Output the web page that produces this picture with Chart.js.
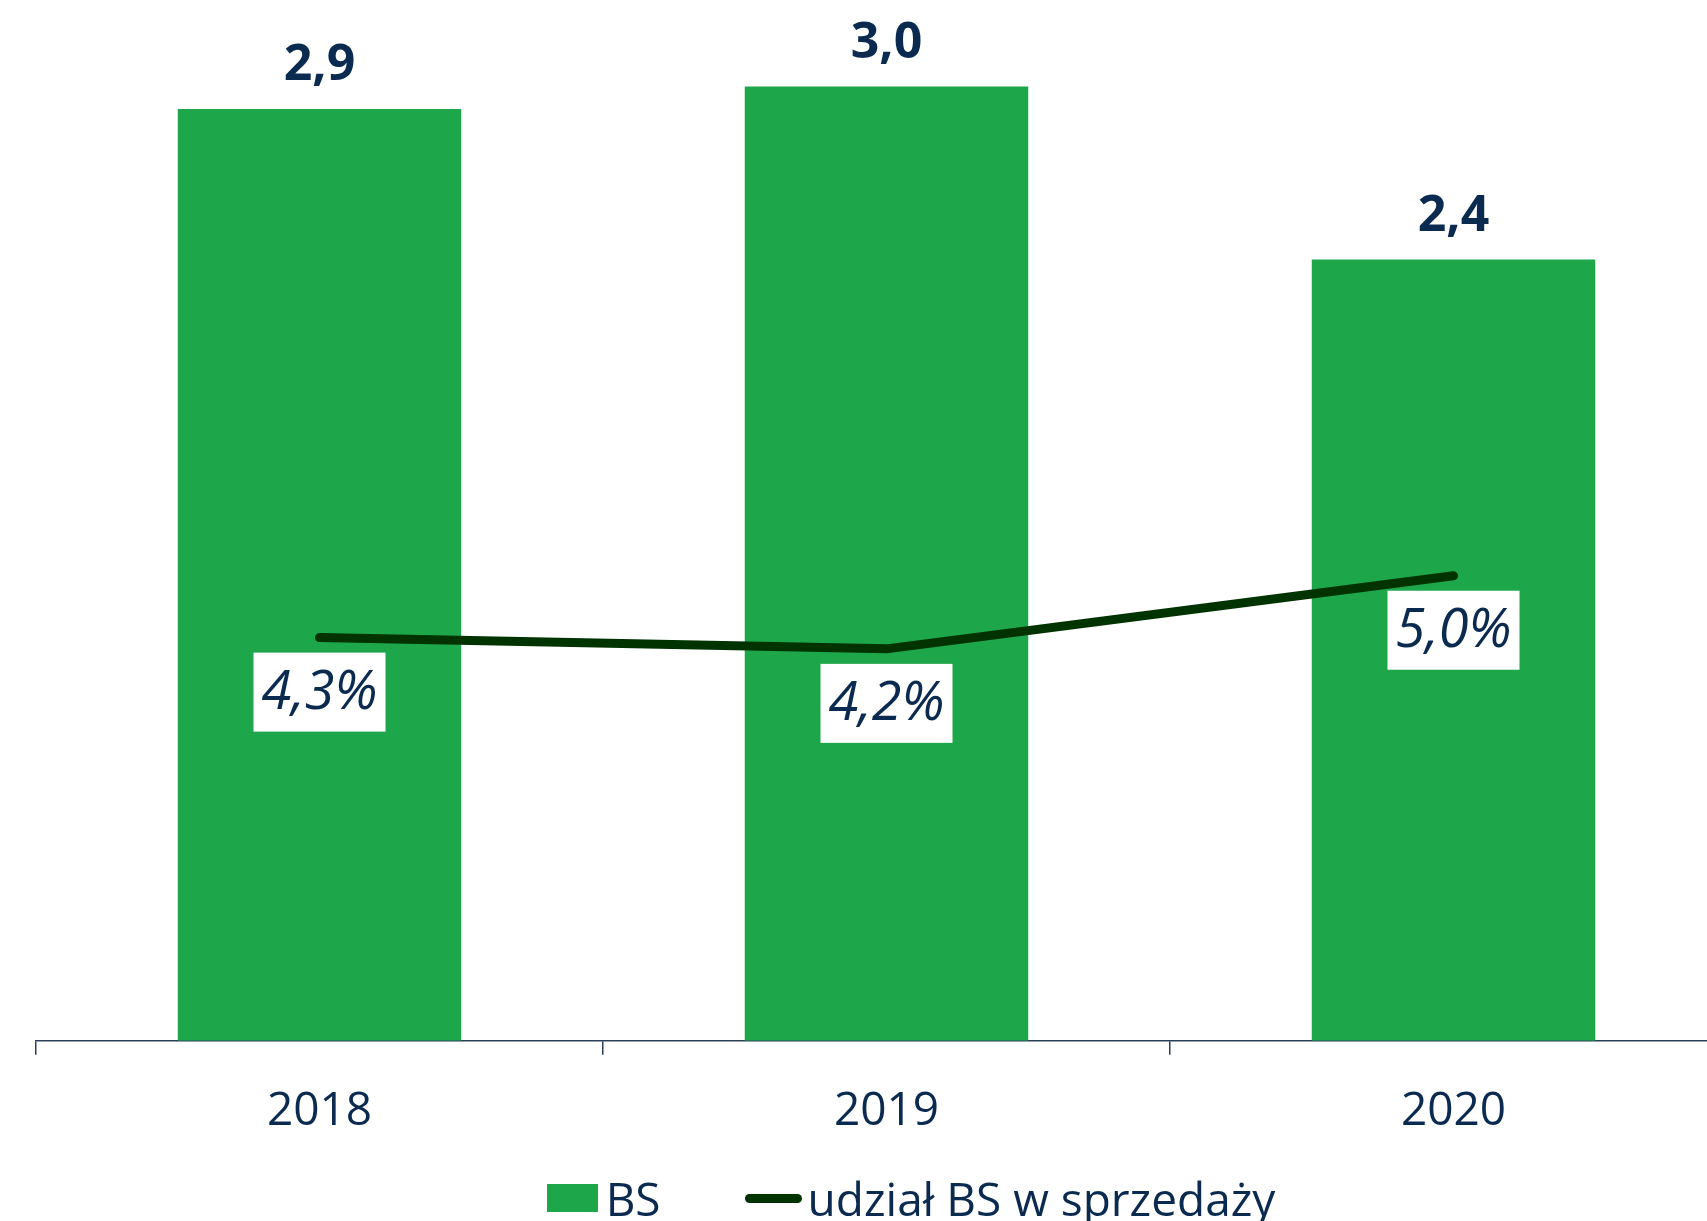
<!DOCTYPE html>
<html>
<head>
<meta charset="utf-8">
<script src="https://cdn.jsdelivr.net/npm/chart.js@4.4.1/dist/chart.umd.min.js"></script>
<style>
  html, body { margin: 0; padding: 0; background: #fff; overflow: hidden; }
  #wrap { position: relative; width: 1822px; height: 1221px; }
  canvas { display: block; }
  #legend {
    position: absolute; left: 0; top: 1170px; width: 1822px; height: 56px;
    display: flex; justify-content: center; align-items: center;
    font-family: "Open Sans", "Noto Sans", sans-serif; font-size: 46px; line-height: 56px;
    color: #0b2a4f;
  }
  #legend .item { display: flex; align-items: center; }
  #legend .item + .item { margin-left: 84px; }
  #legend .box { width: 51px; height: 28px; margin-right: 8px; }
  #legend .line { width: 57px; height: 9px; border-radius: 5px; margin-right: 6px; }
</style>
</head>
<body>
<div id="wrap">
  <canvas id="chart" width="1822" height="1221"></canvas>
  <div id="legend"></div>
</div>
<script>
const years = ['2018', '2019', '2020'];
const bsValues = [2.91, 2.98, 2.44];
const shareValues = [4.3, 4.18, 4.96];
const seriesNames = ['BS', 'udział BS w sprzedaży'];

const NAVY = '#0b2a4f';
const GREEN = '#1ea64b';
const DARK_GREEN = '#003300';
const AXIS = '#2b3f57';
const FONT = '"Open Sans", "Noto Sans", sans-serif';

const fmt = (v) => v.toFixed(1).replace('.', ',');

// value labels above bars and boxed labels under the line points
const valueLabels = {
    id: 'valueLabels',
    afterDatasetsDraw(chart) {
        const ctx = chart.ctx;
        ctx.save();
        ctx.textAlign = 'center';
        ctx.textBaseline = 'middle';

        ctx.fillStyle = NAVY;
        ctx.font = 'bold 50px ' + FONT;
        chart.getDatasetMeta(0).data.forEach((bar, i) => {
            ctx.fillText(fmt(bsValues[i]), bar.x, bar.y - 43);
        });

        ctx.font = 'italic 54px ' + FONT;
        chart.getDatasetMeta(1).data.forEach((pt, i) => {
            const cy = pt.y + 54;
            ctx.fillStyle = '#fff';
            ctx.fillRect(pt.x - 66, cy - 39, 132, 79);
            ctx.fillStyle = NAVY;
            ctx.fillText(fmt(shareValues[i]) + '%', pt.x, cy + 2);
        });
        ctx.restore();
    }
};

// html legend built from the datasets
const htmlLegend = {
    id: 'htmlLegend',
    afterUpdate(chart) {
        const el = document.getElementById('legend');
        el.innerHTML = '';
        chart.data.datasets.forEach((ds) => {
            const item = document.createElement('div');
            item.className = 'item';
            const sw = document.createElement('span');
            if (ds.type === 'line') {
                sw.className = 'line';
                sw.style.background = ds.borderColor;
            } else {
                sw.className = 'box';
                sw.style.background = ds.backgroundColor;
            }
            const txt = document.createElement('span');
            txt.textContent = ds.label;
            item.appendChild(sw);
            item.appendChild(txt);
            el.appendChild(item);
        });
    }
};

new Chart(document.getElementById('chart'), {
    data: {
        labels: years,
        datasets: [
            {
                type: 'bar',
                label: seriesNames[0],
                data: bsValues,
                backgroundColor: GREEN,
                categoryPercentage: 1,
                barPercentage: 0.5,
                yAxisID: 'y',
                order: 1
            },
            {
                type: 'line',
                label: seriesNames[1],
                data: shareValues,
                borderColor: DARK_GREEN,
                borderWidth: 9,
                borderCapStyle: 'round',
                borderJoinStyle: 'round',
                pointRadius: 0,
                tension: 0,
                fill: false,
                yAxisID: 'y2',
                order: 0
            }
        ]
    },
    options: {
        responsive: false,
        animation: false,
        layout: {
            padding: { left: 36, right: 85, top: 0, bottom: 53 }
        },
        scales: {
            x: {
                offset: true,
                grid: {
                    display: true,
                    offset: true,
                    drawOnChartArea: false,
                    tickLength: 14,
                    color: AXIS,
                    lineWidth: 1.5
                },
                border: { display: true, color: AXIS, width: 1.5 },
                ticks: {
                    color: NAVY,
                    padding: 29,
                    font: { family: FONT, size: 46 }
                }
            },
            y: {
                display: false,
                min: 0,
                max: 3.25
            },
            y2: {
                display: false,
                position: 'right',
                min: 0,
                max: 11.1
            }
        },
        plugins: {
            tooltip: { enabled: false },
            legend: { display: false }
        }
    },
    plugins: [valueLabels, htmlLegend]
});
</script>
</body>
</html>
